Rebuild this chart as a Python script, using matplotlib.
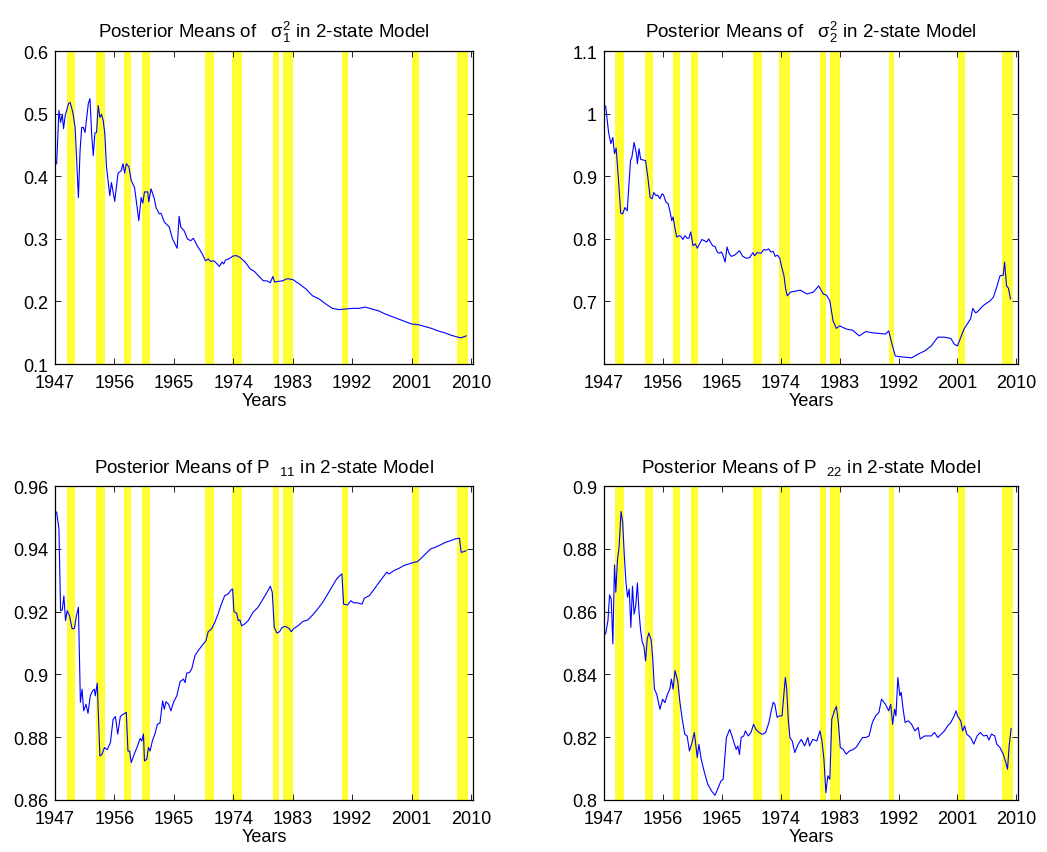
"""Posterior means of the 2-state model parameters, with recession bands."""
import matplotlib

matplotlib.use("Agg")
import matplotlib.pyplot as plt  # noqa: E402

plt.rcParams["font.family"] = ["Liberation Sans", "DejaVu Sans"]
plt.rcParams["mathtext.fontset"] = "custom"
plt.rcParams["mathtext.rm"] = "Liberation Sans"
plt.rcParams["mathtext.it"] = "Liberation Sans"
plt.rcParams["mathtext.default"] = "regular"

# recession periods (start, end) shaded in yellow
RECESSIONS = [
    (1948.75, 1950.0), (1953.25, 1954.5), (1957.5, 1958.55), (1960.25, 1961.35),
    (1969.75, 1971.1), (1973.75, 1975.35), (1980.05, 1980.85), (1981.5, 1983.1),
    (1990.5, 1991.35), (2001.05, 2002.15), (2007.8, 2009.5),
]

XTICKS = [1947, 1956, 1965, 1974, 1983, 1992, 2001, 2010]

# sigma_1^2
years_s1 = [
    1947.25, 1947.6, 1947.85, 1948.1, 1948.3, 1948.55, 1949.05, 1949.3, 1949.7, 1950.05,
    1950.55, 1950.8, 1951.05, 1951.3, 1951.55, 1952.05, 1952.3, 1952.55, 1952.8, 1953.05,
    1953.3, 1953.55, 1953.8, 1954.05, 1954.3, 1954.55, 1954.8, 1955.3, 1955.55, 1956.05,
    1956.55, 1957.05, 1957.3, 1957.55, 1957.8, 1958.2, 1958.55, 1959.05, 1959.7, 1960.05,
    1960.3, 1960.55, 1961.05, 1961.2, 1961.55, 1962.05, 1962.3, 1962.8, 1963.05, 1963.55,
    1964.3, 1964.8, 1965.5, 1965.8, 1966.05, 1966.55, 1967.05, 1967.55, 1967.95, 1968.55,
    1969.3, 1969.8, 1970.2, 1970.55, 1971.05, 1971.55, 1971.9, 1972.3, 1972.55, 1972.8,
    1973.3, 1974.05, 1974.55, 1975.05, 1975.8, 1976.55, 1977.2, 1977.8, 1978.55, 1979.05,
    1979.6, 1980.0, 1980.25, 1980.75, 1981.5, 1982.0, 1982.5, 1983.0, 1984, 1985,
    1986, 1987, 1988, 1989, 1990, 1991, 1992, 1993, 1994, 1995,
    1996, 1997, 1998, 1999, 2000, 2001, 2002, 2003, 2004, 2005,
    2006, 2007, 2008, 2008.5, 2009.25,
]
sigma1_sq = [
    0.420, 0.505, 0.486, 0.499, 0.476, 0.497, 0.516, 0.518, 0.502, 0.478,
    0.366, 0.441, 0.478, 0.478, 0.470, 0.516, 0.524, 0.468, 0.433, 0.469,
    0.470, 0.513, 0.494, 0.499, 0.489, 0.468, 0.415, 0.369, 0.390, 0.360,
    0.405, 0.409, 0.420, 0.405, 0.420, 0.415, 0.393, 0.382, 0.329, 0.366,
    0.357, 0.375, 0.375, 0.359, 0.380, 0.364, 0.350, 0.340, 0.341, 0.327,
    0.319, 0.300, 0.285, 0.336, 0.319, 0.313, 0.300, 0.297, 0.301, 0.289,
    0.276, 0.265, 0.268, 0.264, 0.265, 0.260, 0.256, 0.263, 0.260, 0.266,
    0.268, 0.273, 0.273, 0.270, 0.263, 0.252, 0.248, 0.241, 0.233, 0.233,
    0.230, 0.240, 0.231, 0.232, 0.233, 0.236, 0.236, 0.235, 0.228, 0.220,
    0.209, 0.204, 0.196, 0.189, 0.187, 0.188, 0.189, 0.189, 0.191, 0.188,
    0.185, 0.180, 0.176, 0.172, 0.168, 0.164, 0.163, 0.160, 0.157, 0.153,
    0.150, 0.146, 0.143, 0.142, 0.145,
]

# sigma_2^2
years_s2 = [
    1947.25, 1947.7, 1948.05, 1948.35, 1948.6, 1948.85, 1949.2, 1949.55, 1949.85, 1950.2,
    1950.55, 1951.05, 1951.25, 1951.6, 1951.95, 1952.1, 1952.35, 1952.6, 1953.35, 1953.7,
    1954.05, 1954.35, 1954.6, 1954.95, 1955.2, 1955.55, 1955.85, 1956.1, 1956.45, 1956.8,
    1957.1, 1957.35, 1957.55, 1957.85, 1958.1, 1958.45, 1958.75, 1959.05, 1959.35, 1959.7,
    1959.95, 1960.25, 1960.6, 1960.95, 1961.25, 1961.6, 1961.95, 1962.35, 1962.7, 1963.0,
    1963.3, 1963.6, 1963.95, 1964.3, 1964.6, 1964.95, 1965.2, 1965.5, 1965.8, 1966.1,
    1966.45, 1966.95, 1967.7, 1968.2, 1968.75, 1969.25, 1969.75, 1970.0, 1970.4, 1971.0,
    1971.4, 1971.75, 1972.15, 1972.5, 1972.85, 1973.15, 1973.5, 1973.85, 1974.15, 1974.5,
    1974.75, 1975.0, 1975.5, 1976, 1977, 1978, 1979, 1979.8, 1980.5, 1981,
    1981.5, 1982, 1982.5, 1983, 1984, 1985, 1986, 1987, 1988, 1989,
    1990, 1990.5, 1991, 1991.5, 1992, 1993, 1994, 1995, 1996, 1997,
    1998, 1999, 2000, 2000.5, 2001, 2002, 2003, 2003.35, 2003.75, 2004,
    2005, 2006, 2006.5, 2007, 2007.5, 2008, 2008.2, 2008.5, 2008.8, 2009.1,
]
sigma2_sq = [
    1.012, 0.970, 0.952, 0.962, 0.936, 0.945, 0.896, 0.841, 0.840, 0.850,
    0.845, 0.925, 0.930, 0.954, 0.936, 0.920, 0.944, 0.927, 0.925, 0.898,
    0.866, 0.864, 0.874, 0.869, 0.870, 0.864, 0.872, 0.870, 0.859, 0.856,
    0.843, 0.829, 0.835, 0.816, 0.803, 0.805, 0.804, 0.799, 0.805, 0.801,
    0.801, 0.811, 0.789, 0.792, 0.785, 0.792, 0.799, 0.797, 0.795, 0.800,
    0.794, 0.789, 0.788, 0.779, 0.777, 0.779, 0.773, 0.763, 0.787, 0.777,
    0.772, 0.774, 0.781, 0.772, 0.769, 0.770, 0.778, 0.773, 0.778, 0.777,
    0.783, 0.782, 0.784, 0.779, 0.780, 0.772, 0.774, 0.769, 0.755, 0.741,
    0.720, 0.709, 0.715, 0.716, 0.718, 0.712, 0.715, 0.725, 0.712, 0.710,
    0.701, 0.669, 0.657, 0.661, 0.656, 0.654, 0.645, 0.652, 0.650, 0.649,
    0.648, 0.653, 0.632, 0.613, 0.612, 0.611, 0.610, 0.616, 0.621, 0.629,
    0.643, 0.643, 0.641, 0.632, 0.629, 0.656, 0.672, 0.689, 0.682, 0.683,
    0.694, 0.701, 0.707, 0.723, 0.741, 0.742, 0.763, 0.725, 0.721, 0.704,
]

# P_11
years_p11 = [
    1947.25, 1947.6, 1947.85, 1948.1, 1948.35, 1948.6, 1948.85, 1949.2, 1949.6, 1949.95,
    1950.25, 1950.55, 1950.85, 1951.1, 1951.35, 1951.7, 1952.0, 1952.35, 1952.7, 1952.95,
    1953.1, 1953.4, 1953.8, 1954.1, 1954.5, 1954.9, 1955.4, 1955.8, 1956.15, 1956.5,
    1956.9, 1957.3, 1957.8, 1958.05, 1958.3, 1958.55, 1959.0, 1959.5, 1959.9, 1960.15,
    1960.4, 1960.55, 1960.9, 1961.15, 1961.4, 1961.75, 1962.2, 1962.5, 1962.9, 1963.3,
    1963.55, 1963.8, 1964.2, 1964.55, 1964.95, 1965.45, 1965.95, 1966.45, 1966.7, 1966.95,
    1967.35, 1967.7, 1968.2, 1968.7, 1969.35, 1969.85, 1970.2, 1970.7, 1971.2, 1971.7,
    1972.2, 1972.7, 1973.2, 1973.7, 1973.9, 1974.1, 1974.5, 1974.75, 1975.0, 1975.25,
    1975.75, 1976.25, 1977.0, 1977.75, 1978.5, 1979.25, 1979.6, 1979.9, 1980.2, 1980.6,
    1981.0, 1981.4, 1981.9, 1982.4, 1982.8, 1983.1, 1983.8, 1984.5, 1985.3, 1986.0,
    1986.8, 1987.55, 1988.3, 1989.05, 1989.65, 1990.15, 1990.45, 1990.7, 1991.3, 1991.8,
    1992.2, 1992.8, 1993.5, 1993.85, 1994.6, 1995.35, 1996.1, 1996.85, 1997.25, 1997.6,
    1998.35, 1999.1, 1999.85, 2000.6, 2001.35, 2001.85, 2002.35, 2003.1, 2003.9, 2004.6,
    2005.4, 2006.15, 2006.9, 2007.65, 2008.25, 2008.5, 2008.9, 2009.25,
]
p11 = [
    0.9517, 0.9464, 0.9203, 0.9205, 0.9250, 0.9171, 0.9203, 0.9187, 0.9145, 0.9147,
    0.9187, 0.9214, 0.8911, 0.8953, 0.8884, 0.8905, 0.8876, 0.8932, 0.8948, 0.8953,
    0.8932, 0.8972, 0.8740, 0.8745, 0.8767, 0.8760, 0.8783, 0.8857, 0.8866, 0.8810,
    0.8866, 0.8873, 0.8879, 0.8756, 0.8756, 0.8719, 0.8746, 0.8772, 0.8796, 0.8788,
    0.8810, 0.8724, 0.8730, 0.8767, 0.8756, 0.8788, 0.8815, 0.8841, 0.8845, 0.8916,
    0.8889, 0.8913, 0.8905, 0.8884, 0.8911, 0.8932, 0.8977, 0.8985, 0.8974, 0.9004,
    0.9006, 0.9017, 0.9060, 0.9076, 0.9094, 0.9107, 0.9136, 0.9145, 0.9166, 0.9193,
    0.9224, 0.9251, 0.9256, 0.9270, 0.9272, 0.9200, 0.9195, 0.9171, 0.9174, 0.9155,
    0.9161, 0.9171, 0.9198, 0.9214, 0.9240, 0.9267, 0.9281, 0.9262, 0.9150, 0.9132,
    0.9136, 0.9150, 0.9153, 0.9147, 0.9136, 0.9145, 0.9155, 0.9168, 0.9174, 0.9189,
    0.9209, 0.9230, 0.9256, 0.9283, 0.9304, 0.9315, 0.9320, 0.9224, 0.9221, 0.9235,
    0.9228, 0.9228, 0.9224, 0.9243, 0.9251, 0.9272, 0.9294, 0.9315, 0.9326, 0.9320,
    0.9331, 0.9338, 0.9347, 0.9352, 0.9357, 0.9359, 0.9368, 0.9384, 0.9400, 0.9405,
    0.9413, 0.9421, 0.9426, 0.9432, 0.9434, 0.9389, 0.9391, 0.9394,
]

# P_22
years_p22 = [
    1947.25, 1947.6, 1947.85, 1948.1, 1948.35, 1948.6, 1948.8, 1949.05, 1949.3, 1949.6,
    1949.85, 1950.1, 1950.35, 1950.6, 1950.85, 1951.1, 1951.35, 1951.6, 1951.85, 1952.1,
    1952.35, 1952.6, 1952.85, 1953.1, 1953.35, 1953.6, 1953.85, 1954.2, 1954.45, 1954.7,
    1955.05, 1955.55, 1955.95, 1956.3, 1956.7, 1957.05, 1957.3, 1957.55, 1957.85, 1958.25,
    1958.6, 1958.95, 1959.35, 1959.7, 1960.05, 1960.45, 1960.8, 1961.05, 1961.25, 1961.5,
    1961.85, 1962.35, 1962.85, 1963.45, 1963.95, 1964.35, 1964.85, 1965.2, 1965.7, 1966.2,
    1966.55, 1966.85, 1967.2, 1967.45, 1967.7, 1967.95, 1968.35, 1968.6, 1969.05, 1969.45,
    1969.85, 1970.2, 1970.7, 1971.2, 1971.7, 1972.2, 1972.55, 1972.85, 1973.1, 1973.45,
    1973.8, 1974.2, 1974.7, 1974.9, 1975.15, 1975.4, 1975.75, 1976.15, 1976.65, 1977.15,
    1977.65, 1978.15, 1978.4, 1978.9, 1979.5, 1980.0, 1980.3, 1980.6, 1980.9, 1981.2,
    1981.5, 1981.8, 1982.2, 1982.5, 1982.8, 1983.1, 1983.5, 1984.0, 1984.5, 1985.0,
    1985.5, 1986.0, 1986.5, 1987.0, 1987.5, 1988.0, 1988.5, 1989.0, 1989.4, 1990.0,
    1990.5, 1990.8, 1991.1, 1991.4, 1991.6, 1991.9, 1992.2, 1992.4, 1992.7, 1993.0,
    1993.5, 1994.0, 1994.5, 1995.0, 1995.3, 1996.0, 1997.0, 1997.5, 1998.0, 1999.0,
    1999.5, 2000.0, 2000.5, 2000.8, 2001.0, 2001.5, 2001.8, 2002.1, 2002.4, 2003.0,
    2003.5, 2004.0, 2004.5, 2005.0, 2005.5, 2005.8, 2006.2, 2006.7, 2007.0, 2007.5,
    2008.0, 2008.4, 2008.65, 2008.9, 2009.2,
]
p22 = [
    0.8529, 0.8571, 0.8653, 0.8640, 0.8497, 0.8749, 0.8662, 0.8763, 0.8805, 0.8919,
    0.8885, 0.8779, 0.8694, 0.8646, 0.8672, 0.8550, 0.8681, 0.8592, 0.8619, 0.8691,
    0.8598, 0.8539, 0.8502, 0.8490, 0.8443, 0.8513, 0.8532, 0.8510, 0.8449, 0.8353,
    0.8337, 0.8289, 0.8321, 0.8310, 0.8337, 0.8353, 0.8385, 0.8353, 0.8412, 0.8380,
    0.8311, 0.8257, 0.8209, 0.8204, 0.8156, 0.8183, 0.8215, 0.8172, 0.8135, 0.8177,
    0.8130, 0.8087, 0.8050, 0.8028, 0.8015, 0.8034, 0.8060, 0.8066, 0.8199, 0.8225,
    0.8204, 0.8183, 0.8161, 0.8172, 0.8145, 0.8199, 0.8204, 0.8220, 0.8204, 0.8215,
    0.8241, 0.8225, 0.8215, 0.8209, 0.8215, 0.8247, 0.8284, 0.8311, 0.8305, 0.8263,
    0.8268, 0.8268, 0.8390, 0.8356, 0.8257, 0.8199, 0.8188, 0.8151, 0.8177, 0.8193,
    0.8172, 0.8199, 0.8172, 0.8193, 0.8188, 0.8220, 0.8188, 0.8130, 0.8023, 0.8077,
    0.8066, 0.8257, 0.8284, 0.8298, 0.8247, 0.8167, 0.8162, 0.8146, 0.8156, 0.8160,
    0.8167, 0.8183, 0.8199, 0.8199, 0.8204, 0.8247, 0.8268, 0.8279, 0.8321, 0.8305,
    0.8284, 0.8305, 0.8241, 0.8289, 0.8268, 0.8390, 0.8332, 0.8343, 0.8289, 0.8247,
    0.8252, 0.8241, 0.8220, 0.8231, 0.8194, 0.8204, 0.8204, 0.8215, 0.8199, 0.8220,
    0.8236, 0.8247, 0.8268, 0.8284, 0.8268, 0.8252, 0.8220, 0.8236, 0.8210, 0.8199,
    0.8178, 0.8204, 0.8215, 0.8204, 0.8206, 0.8191, 0.8210, 0.8204, 0.8178, 0.8167,
    0.8146, 0.8119, 0.8098, 0.8172, 0.8228,
]

PANELS = [
    # (axes rect, years, values, ylim, yticks, title)
    ([0.0525, 0.572, 0.3993, 0.367], years_s1, sigma1_sq, (0.1, 0.6),
     [0.1, 0.2, 0.3, 0.4, 0.5, 0.6],
     r"Posterior Means of   $\sigma_{\mathrm{1}}^{\mathrm{2}}$ in 2-state Model"),
    ([0.5769, 0.572, 0.3957, 0.367], years_s2, sigma2_sq, (0.6, 1.1),
     [0.7, 0.8, 0.9, 1.0, 1.1],
     r"Posterior Means of   $\sigma_{\mathrm{2}}^{\mathrm{2}}$ in 2-state Model"),
    ([0.0525, 0.061, 0.3993, 0.368], years_p11, p11, (0.86, 0.96),
     [0.86, 0.88, 0.90, 0.92, 0.94, 0.96],
     r"Posterior Means of P  ${}_{\mathrm{11}}$ in 2-state Model"),
    ([0.5769, 0.061, 0.3957, 0.368], years_p22, p22, (0.8, 0.9),
     [0.8, 0.82, 0.84, 0.86, 0.88, 0.9],
     r"Posterior Means of P  ${}_{\mathrm{22}}$ in 2-state Model"),
]


def draw_panel(fig, rect, years, values, ylim, yticks, title):
    ax = fig.add_axes(rect)
    for start, end in RECESSIONS:
        ax.axvspan(start, end, color="#ffff33", lw=0, zorder=0)
    ax.plot(years, values, color="blue", lw=0.8, zorder=2)
    ax.set_xlim(1947, 2010.3)
    ax.set_ylim(*ylim)
    ax.set_xticks(XTICKS, [str(t) for t in XTICKS])
    ax.set_yticks(yticks, [f"{t:g}" for t in yticks])
    ax.tick_params(direction="in", top=True, right=True, length=4, width=0.6,
                   labelsize=13)
    ax.tick_params(axis="x", pad=7)
    ax.tick_params(axis="y", pad=5)
    for spine in ax.spines.values():
        spine.set_linewidth(0.9)
    ax.set_xlabel("Years", fontsize=13, labelpad=1)
    ax.set_title(title, fontsize=13.5, pad=10)
    return ax


def main():
    fig = plt.figure(figsize=(10.47, 8.53), dpi=100)
    for rect, years, values, ylim, yticks, title in PANELS:
        draw_panel(fig, rect, years, values, ylim, yticks, title)
    fig.savefig("out.png", dpi=100)
    plt.close(fig)


if __name__ == "__main__":
    main()
